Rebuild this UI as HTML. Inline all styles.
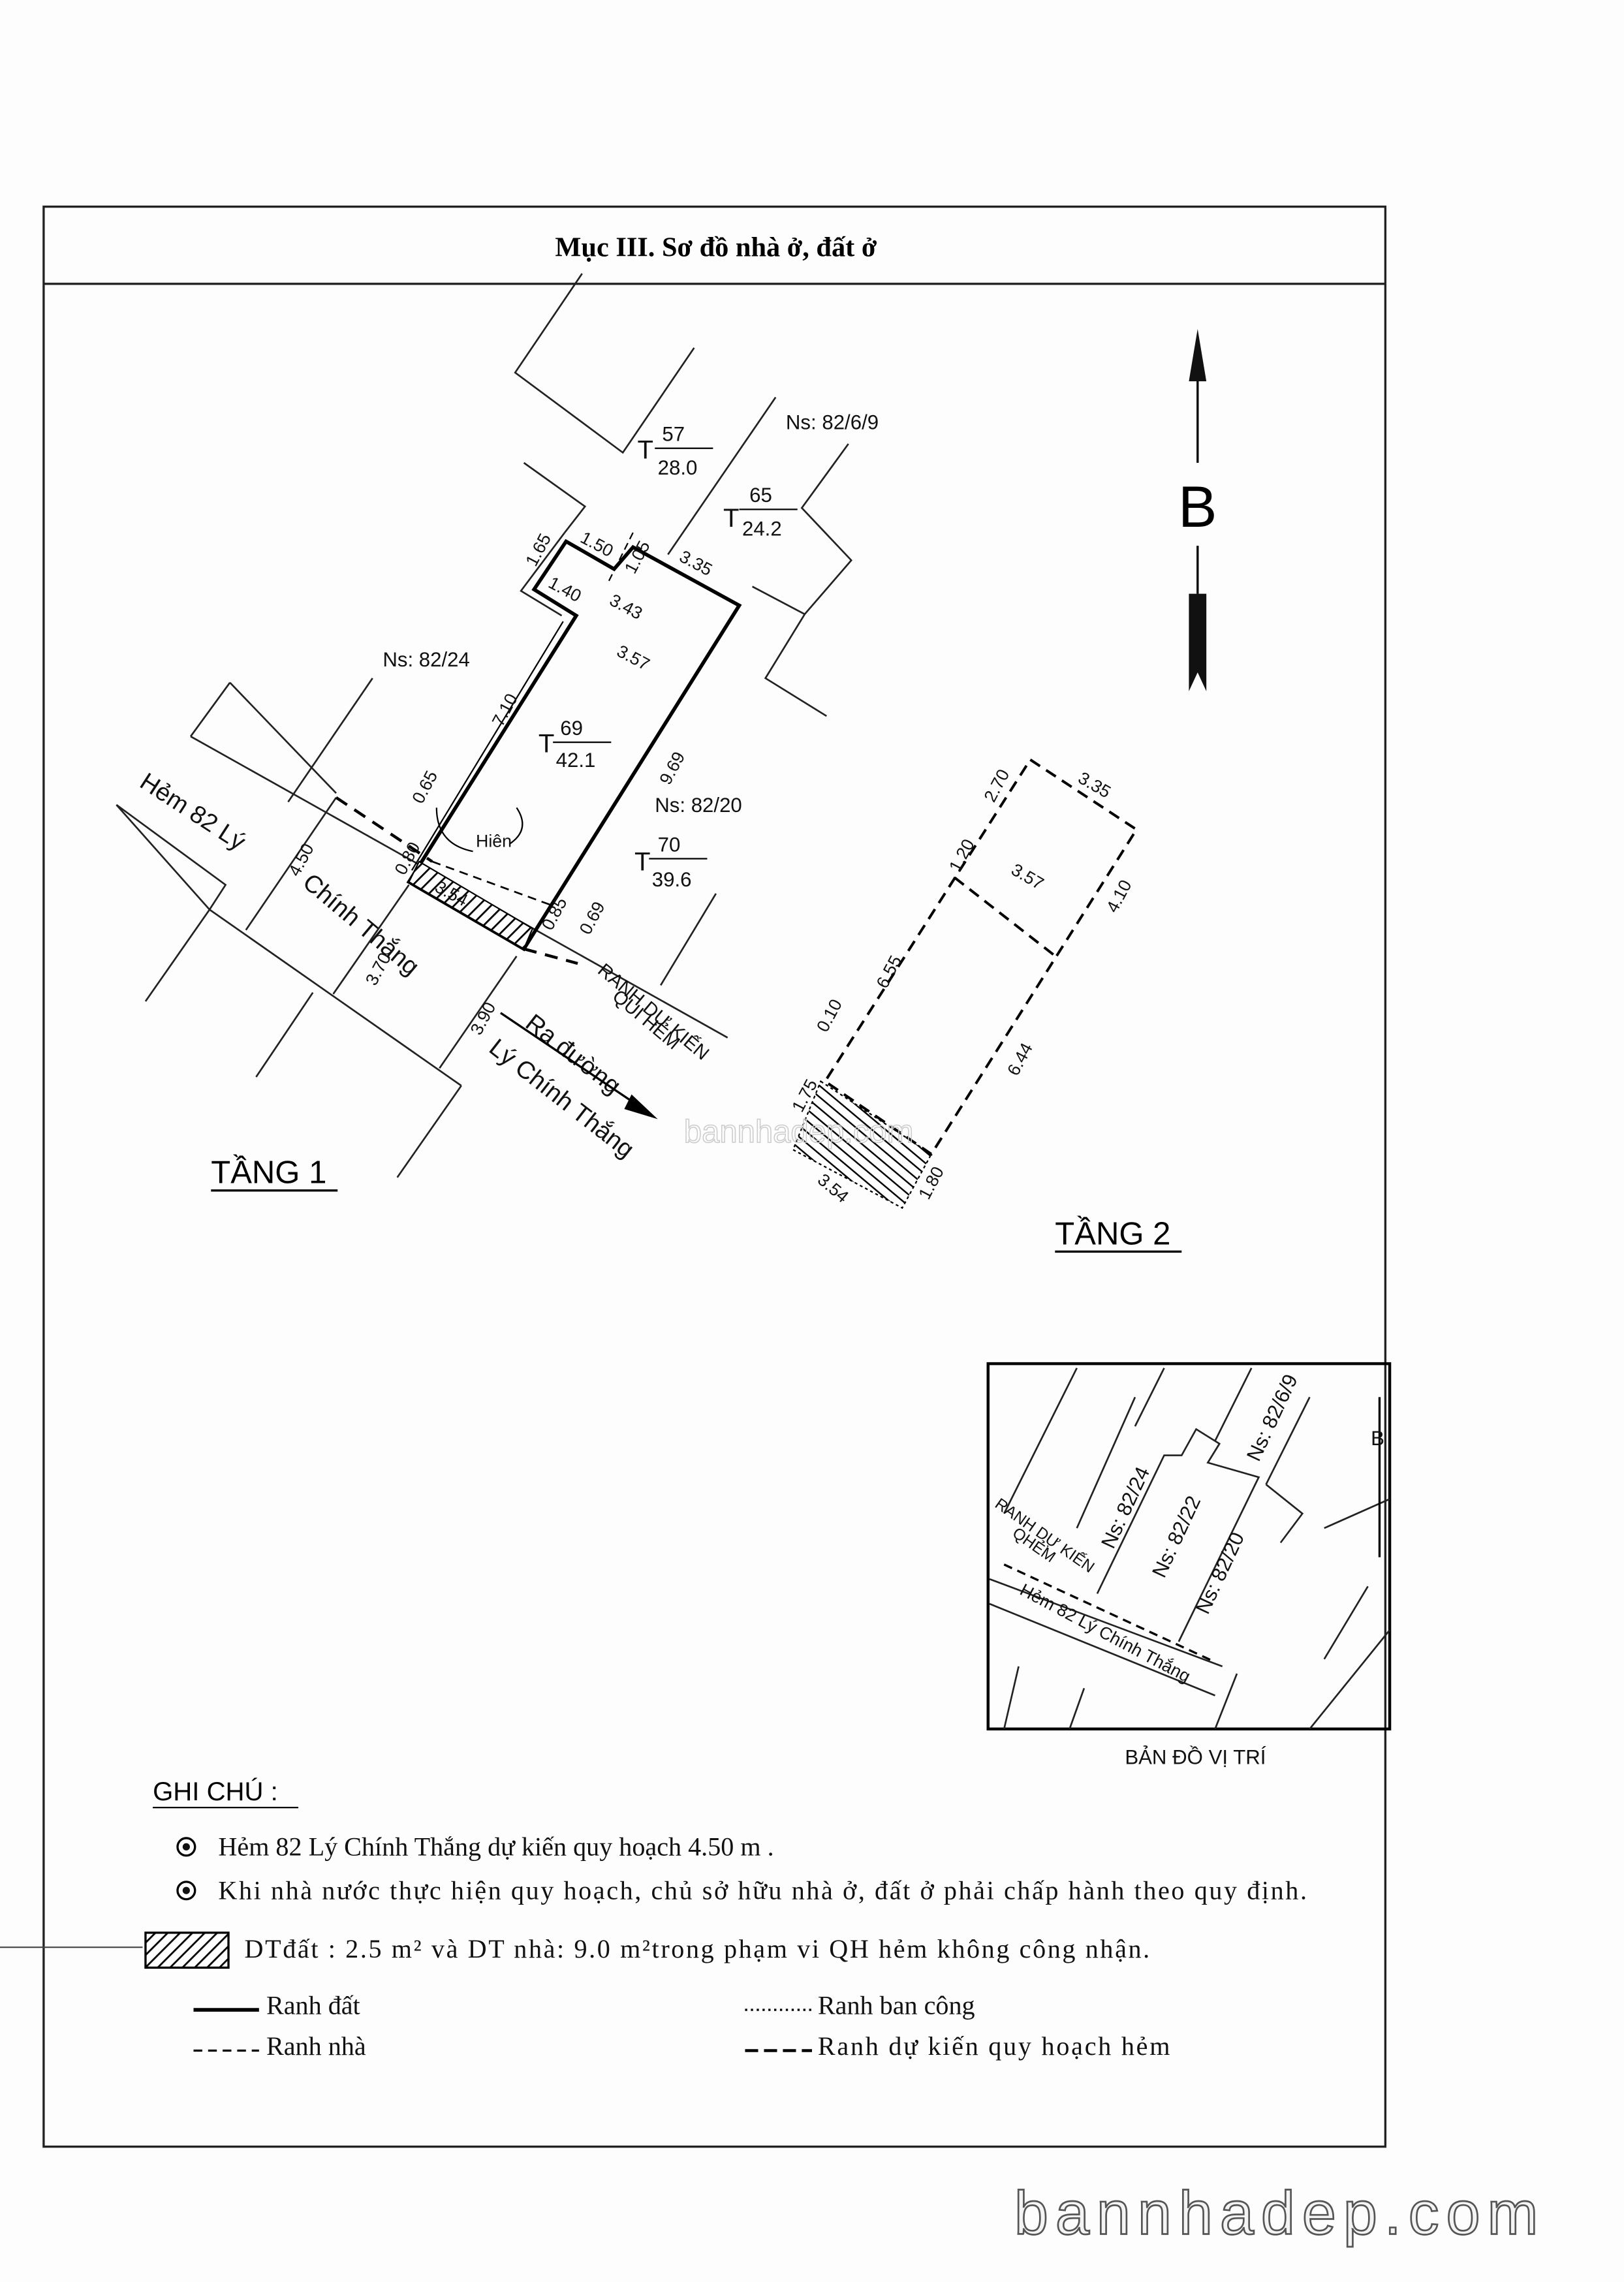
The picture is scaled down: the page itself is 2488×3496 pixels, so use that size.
<!DOCTYPE html>
<html><head><meta charset="utf-8"><style>
html,body{margin:0;padding:0;background:#fff}
svg{display:block}
.s{font-family:"Liberation Sans","DejaVu Sans",sans-serif}
.r{font-family:"Liberation Serif","DejaVu Serif",serif}
</style></head><body>
<svg width="2488" height="3496" viewBox="0 0 1116 1568" preserveAspectRatio="none" xmlns="http://www.w3.org/2000/svg">
<defs>
<pattern id="h" width="6" height="6" patternUnits="userSpaceOnUse" patternTransform="rotate(45)">
<rect width="6" height="6" fill="#fff"/><line x1="0" y1="0" x2="0" y2="6" stroke="#000" stroke-width="2.5"/>
</pattern>
<pattern id="h2" width="6" height="6" patternUnits="userSpaceOnUse" patternTransform="rotate(-50)">
<rect width="6" height="6" fill="#fff"/><line x1="0" y1="0" x2="0" y2="6" stroke="#000" stroke-width="2.2"/>
</pattern>
</defs>
<rect width="1116" height="1568" fill="#fdfdfd"/>
<rect x="30" y="142" width="922" height="1333" fill="none" stroke="#222" stroke-width="1.5"/>
<line x1="30" y1="195" x2="952" y2="195" stroke="#222" stroke-width="1.5"/>
<text x="492" y="176" text-anchor="middle" class="r" font-size="19" font-weight="bold">Mục III. Sơ đồ nhà ở, đất ở</text>

<line x1="823" y1="240" x2="823" y2="318" stroke="#000" stroke-width="1.5"/>
<polygon points="823,226 817,262 829,262" fill="#111"/>
<text x="823" y="362" text-anchor="middle" class="s" font-size="40">B</text>
<line x1="823" y1="375" x2="823" y2="408" stroke="#000" stroke-width="1.5"/>
<polygon points="817,408 829,408 829,475 823,462 817,475" fill="#111"/>

<g stroke="#222" stroke-width="1.2" fill="none">
<polyline points="400,188 354,256 428,311 477,239"/>
<polyline points="360,318 402,348 388,366"/>
<polyline points="388,366 358,406 386,423"/>
<line x1="533" y1="273" x2="459" y2="381"/>
<polyline points="583,305 551,349 585,385 553,422 526,466 568,492"/>
<polyline points="517,403 553,422"/>
<line x1="256" y1="466" x2="198" y2="551"/>
<polyline points="158,469 131,506"/>
<line x1="131" y1="506" x2="500" y2="713"/>
<line x1="158" y1="469" x2="231" y2="545"/>
<polyline points="80,553 155,608 144,625 100,688"/>
<line x1="80" y1="553" x2="144" y2="625"/>
<line x1="144" y1="625" x2="317" y2="746"/>
<line x1="317" y1="746" x2="273" y2="809"/>
<line x1="215" y1="682" x2="176" y2="740"/>
<line x1="492" y1="614" x2="454" y2="677"/>
<line x1="169" y1="639" x2="231" y2="548"/>
<line x1="229" y1="683" x2="281" y2="608"/>
<line x1="302" y1="734" x2="355" y2="657"/>
</g>
<polygon points="281,606 360,652 508,416 435,376 422,391 389,372 367,405 396,423" fill="none" stroke="#000" stroke-width="2.5"/>
<line x1="387" y1="427" x2="283" y2="598" stroke="#000" stroke-width="1"/>
<line x1="435" y1="366" x2="418" y2="400" stroke="#000" stroke-width="1" stroke-dasharray="5,3"/>
<polygon points="281,606 360,652 366,638 288,592" fill="url(#h)" stroke="#000" stroke-width="1"/>
<line x1="231" y1="548" x2="297" y2="592" stroke="#000" stroke-width="2" stroke-dasharray="9,6"/>
<line x1="297" y1="592" x2="379" y2="622" stroke="#000" stroke-width="1.2" stroke-dasharray="6,4"/>
<line x1="360" y1="652" x2="397" y2="662" stroke="#000" stroke-width="2" stroke-dasharray="9,6"/>
<path d="M350,580 q15,-10 5,-25" fill="none" stroke="#000"/>
<path d="M300,555 q0,25 25,30" fill="none" stroke="#000"/>
<g class="s" font-size="14" fill="#111">
<text x="540" y="295">Ns: 82/6/9</text>
<text x="438" y="315" font-size="18">T</text><text x="455" y="303">57</text>
<line x1="450" y1="308" x2="490" y2="308" stroke="#000"/><text x="452" y="326">28.0</text>
<text x="497" y="362" font-size="18">T</text><text x="515" y="345">65</text>
<line x1="508" y1="350" x2="548" y2="350" stroke="#000"/><text x="510" y="368">24.2</text>
<text x="263" y="458">Ns: 82/24</text>
<text x="370" y="517" font-size="18">T</text><text x="385" y="505">69</text>
<line x1="380" y1="510" x2="420" y2="510" stroke="#000"/><text x="382" y="527">42.1</text>
<text x="450" y="558">Ns: 82/20</text>
<text x="436" y="598" font-size="18">T</text><text x="452" y="585">70</text>
<line x1="446" y1="590" x2="486" y2="590" stroke="#000"/><text x="448" y="609">39.6</text>
<text x="327" y="582" font-size="12">Hiên</text>
<text transform="translate(466,385) rotate(28)" font-size="12">3.35</text>
<text transform="translate(398,372) rotate(28)" font-size="12">1.50</text>
<text transform="translate(418,415) rotate(28)" font-size="12">3.43</text>
<text transform="translate(423,450) rotate(28)" font-size="12">3.57</text>
<text transform="translate(376,403) rotate(28)" font-size="12">1.40</text>
<text transform="translate(368,390) rotate(-62)" font-size="12">1.65</text>
<text transform="translate(436,395) rotate(-62)" font-size="12">1.05</text>
<text transform="translate(345,500) rotate(-62)" font-size="12">7.10</text>
<text transform="translate(460,540) rotate(-62)" font-size="12">9.69</text>
<text transform="translate(290,553) rotate(-62)" font-size="12">0.65</text>
<text transform="translate(278,602) rotate(-62)" font-size="12">0.80</text>
<text transform="translate(379,640) rotate(-62)" font-size="12">0.85</text>
<text transform="translate(405,643) rotate(-62)" font-size="12">0.69</text>
<text transform="translate(298,612) rotate(28)" font-size="12">3.54</text>
<text transform="translate(205,603) rotate(-62)" font-size="12">4.50</text>
<text transform="translate(258,678) rotate(-62)" font-size="12">3.70</text>
<text transform="translate(330,712) rotate(-62)" font-size="12">3.90</text>
<text transform="translate(95,540) rotate(33)" font-size="17">Hẻm 82 Lý</text>
<text transform="translate(207,608) rotate(40)" font-size="17">Chính Thắng</text>
<text transform="translate(410,668) rotate(40)" font-size="13">RANH DỰ KIẾN</text>
<text transform="translate(420,686) rotate(40)" font-size="13">QUI HẺM</text>
<text transform="translate(360,705) rotate(38)" font-size="17">Ra đường</text>
<text transform="translate(335,722) rotate(38)" font-size="17">Lý Chính Thắng</text>
</g>
<line x1="344" y1="696" x2="445" y2="764" stroke="#000" stroke-width="1.5"/>
<polygon points="452,769 434,752 429,762" fill="#000"/>
<text x="145" y="813" class="s" font-size="22">TẦNG 1</text>
<line x1="145" y1="818" x2="232" y2="818" stroke="#000" stroke-width="1.5"/>

<!-- Tang 2 -->
<polygon points="564,743 640,793 620,830 545,790" fill="url(#h2)" stroke="#000" stroke-width="1" stroke-dasharray="2,2"/>
<g stroke="#000" stroke-width="1.8" stroke-dasharray="8,5" fill="none">
<polygon points="708,522 781,570 640,793 567,743"/>
<line x1="656" y1="603" x2="724" y2="656"/>
</g>
<g class="s" font-size="12" fill="#111">
<text transform="translate(740,537) rotate(30)">3.35</text>
<text transform="translate(694,600) rotate(30)">3.57</text>
<text transform="translate(683,552) rotate(-62)">2.70</text>
<text transform="translate(659,600) rotate(-62)">1.20</text>
<text transform="translate(767,628) rotate(-62)">4.10</text>
<text transform="translate(609,680) rotate(-62)">6.55</text>
<text transform="translate(699,740) rotate(-62)">6.44</text>
<text transform="translate(568,710) rotate(-62)">0.10</text>
<text transform="translate(551,765) rotate(-62)">1.75</text>
<text transform="translate(561,812) rotate(40)">3.54</text>
<text transform="translate(638,825) rotate(-62)">1.80</text>
</g>
<text x="470" y="785" class="s" font-size="22" fill="none" stroke="#ccc" stroke-width="0.7">bannhadep.com</text>
<text x="725" y="855" class="s" font-size="22">TẦNG 2</text>
<line x1="725" y1="860" x2="812" y2="860" stroke="#000" stroke-width="1.5"/>

<rect x="679" y="937" width="276" height="251" fill="none" stroke="#000" stroke-width="2"/>
<g stroke="#222" stroke-width="1.2" fill="none">
<line x1="680" y1="1085" x2="840" y2="1145"/>
<line x1="680" y1="1102" x2="835" y2="1165"/>
<polyline points="754,1095 800,1000 812,1000 822,982 838,992 830,1005 865,1015 810,1128"/>
<line x1="740" y1="940" x2="690" y2="1040"/>
<line x1="780" y1="960" x2="740" y2="1050"/>
<line x1="800" y1="940" x2="780" y2="980"/>
<line x1="860" y1="940" x2="835" y2="990"/>
<line x1="900" y1="960" x2="870" y2="1020"/>
<polyline points="870,1020 895,1040 880,1060"/>
<line x1="955" y1="1030" x2="910" y2="1050"/>
<line x1="955" y1="1120" x2="900" y2="1188"/>
<line x1="700" y1="1145" x2="690" y2="1188"/>
<line x1="745" y1="1160" x2="735" y2="1188"/>
<line x1="850" y1="1150" x2="835" y2="1188"/>
<line x1="940" y1="1090" x2="910" y2="1140"/>
</g>
<line x1="690" y1="1075" x2="835" y2="1142" stroke="#000" stroke-width="1.5" stroke-dasharray="6,4"/>
<line x1="948" y1="960" x2="948" y2="1070" stroke="#000" stroke-width="1.5"/>
<g class="s" font-size="14" fill="#111">
<text transform="translate(765,1065) rotate(-65)">Ns: 82/24</text>
<text transform="translate(800,1085) rotate(-65)">Ns: 82/22</text>
<text transform="translate(830,1110) rotate(-65)">Ns: 82/20</text>
<text transform="translate(865,1005) rotate(-65)">Ns: 82/6/9</text>
<text transform="translate(683,1035) rotate(35)" font-size="11">RANH DỰ KIẾN</text>
<text transform="translate(695,1055) rotate(35)" font-size="11">QHẺM</text>
<text transform="translate(700,1095) rotate(28)" font-size="12">Hẻm 82 Lý Chính Thắng</text>
<text x="942" y="993" font-size="14">B</text>
<text x="773" y="1212" font-size="14">BẢN ĐỒ VỊ TRÍ</text>
</g>

<text x="105" y="1237" class="s" font-size="18">GHI CHÚ :</text>
<line x1="105" y1="1242" x2="205" y2="1242" stroke="#000"/>
<g class="r" font-size="18" fill="#111">
<circle cx="128" cy="1269" r="6" fill="none" stroke="#000" stroke-width="1.5"/><circle cx="128" cy="1269" r="2.5"/>
<text x="150" y="1275">Hẻm 82 Lý Chính Thắng dự kiến quy hoạch 4.50 m .</text>
<circle cx="128" cy="1299" r="6" fill="none" stroke="#000" stroke-width="1.5"/><circle cx="128" cy="1299" r="2.5"/>
<text x="150" y="1305" textLength="748">Khi nhà nước thực hiện quy hoạch, chủ sở hữu nhà ở, đất ở phải chấp hành theo quy định.</text>
<rect x="100" y="1328" width="57" height="24" fill="url(#h)" stroke="#000" stroke-width="1.5"/>
<text x="168" y="1345" textLength="622">DTđất : 2.5 m² và DT nhà: 9.0 m²trong phạm vi QH hẻm không công nhận.</text>
<line x1="133" y1="1381" x2="178" y2="1381" stroke="#000" stroke-width="2.5"/>
<text x="183" y="1384">Ranh đất</text>
<line x1="133" y1="1409" x2="178" y2="1409" stroke="#000" stroke-width="1.5" stroke-dasharray="6,4"/>
<text x="183" y="1412">Ranh nhà</text>
<line x1="512" y1="1381" x2="558" y2="1381" stroke="#000" stroke-width="1.5" stroke-dasharray="1.5,2.5"/>
<text x="562" y="1384">Ranh ban công</text>
<line x1="512" y1="1409" x2="558" y2="1409" stroke="#000" stroke-width="2" stroke-dasharray="9,4"/>
<text x="562" y="1412" textLength="242">Ranh dự kiến quy hoạch hẻm</text>
</g>
<line x1="0" y1="1338" x2="98" y2="1338" stroke="#444"/>

<text x="697" y="1535" class="s" font-size="42" fill="#f4f4f4" stroke="#555" stroke-width="1.2" textLength="360">bannhadep.com</text>
</svg>
</body></html>
